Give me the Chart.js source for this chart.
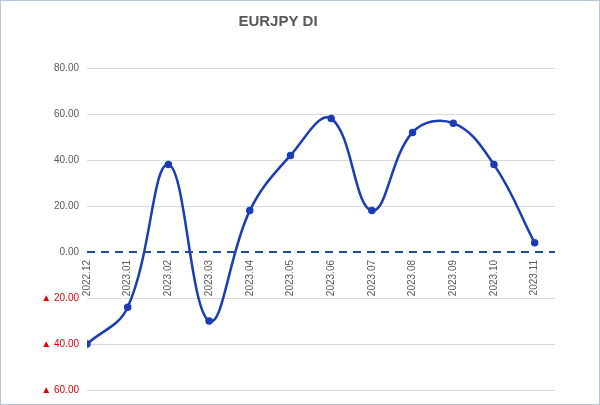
<!DOCTYPE html>
<html>
<head>
<meta charset="utf-8">
<script src="https://cdn.jsdelivr.net/npm/chart.js@4.4.0/dist/chart.umd.min.js"></script>
<style>
  html, body { margin: 0; padding: 0; background: #fff; }
  #wrap { width: 598px; height: 403px; border: 1px solid #b4c7dc; }
</style>
</head>
<body>
<div id="wrap"><canvas id="chart" width="598" height="403"></canvas></div>
<script>
// Dados do gráfico
const labels = ['2022.12', '2023.01', '2023.02', '2023.03', '2023.04', '2023.05', '2023.06', '2023.07', '2023.08', '2023.09', '2023.10', '2023.11'];
const valores = [-40, -24, 38, -30, 18, 42, 58, 18, 52, 56, 38, 4];

// Linha tracejada do zero + rótulos do eixo X sobre o zero
const zeroLinePlugin = {
    id: 'zeroLine',
    afterDatasetsDraw(chart) {
        const { ctx, scales: { x, y } } = chart;
        const y0 = y.getPixelForValue(0);
        ctx.save();
        ctx.strokeStyle = '#1f4e99';
        ctx.lineWidth = 2;
        ctx.setLineDash([8, 6]);
        ctx.beginPath();
        ctx.moveTo(chart.chartArea.left, y0);
        ctx.lineTo(chart.chartArea.right, y0);
        ctx.stroke();
        ctx.setLineDash([]);
        ctx.fillStyle = '#595959';
        ctx.font = '10px "Liberation Sans", Arial, sans-serif';
        ctx.textAlign = 'right';
        ctx.textBaseline = 'middle';
        labels.forEach((l, i) => {
            ctx.save();
            ctx.translate(x.getPixelForValue(i), y0 + 8);
            ctx.rotate(-Math.PI / 2);
            ctx.fillText(l, 0, 0);
            ctx.restore();
        });
        ctx.restore();
    }
};

new Chart(document.getElementById('chart'), {
    type: 'line',
    data: {
        datasets: [{
            data: valores.map((v, i) => ({ x: i, y: v })),
            borderColor: '#1a3cb4',
            backgroundColor: '#1a3cb4',
            borderWidth: 2.5,
            pointRadius: 2.5,
            tension: 0.4,
            fill: false
        }]
    },
    options: {
        responsive: false,
        animation: false,
        layout: { padding: { left: 0, right: 44, bottom: 12, top: 0 } },
        plugins: {
            legend: { display: false },
            tooltip: { enabled: false },
            title: {
                display: true,
                text: 'EURJPY DI',
                color: '#595959',
                font: { size: 15, weight: 'bold', family: '"Liberation Sans", Arial, sans-serif' },
                padding: { top: 12, bottom: 37 }
            }
        },
        scales: {
            x: {
                type: 'linear',
                min: 0,
                max: 11.5,
                display: false
            },
            y: {
                min: -60,
                max: 80,
                afterFit: (s) => { s.width = 86; },
                border: { display: false },
                grid: {
                    drawTicks: false,
                    color: (c) => c.tick && c.tick.value === 0 ? 'rgba(0,0,0,0)' : '#d9d9d9'
                },
                ticks: {
                    stepSize: 20,
                    padding: 8,
                    font: { size: 10, family: '"Liberation Sans", Arial, sans-serif' },
                    color: (c) => c.tick.value < 0 ? '#e00000' : '#595959',
                    callback: (v) => v < 0 ? '▲ ' + Math.abs(v).toFixed(2) : v.toFixed(2)
                }
            }
        }
    },
    plugins: [zeroLinePlugin]
});
</script>
</body>
</html>
